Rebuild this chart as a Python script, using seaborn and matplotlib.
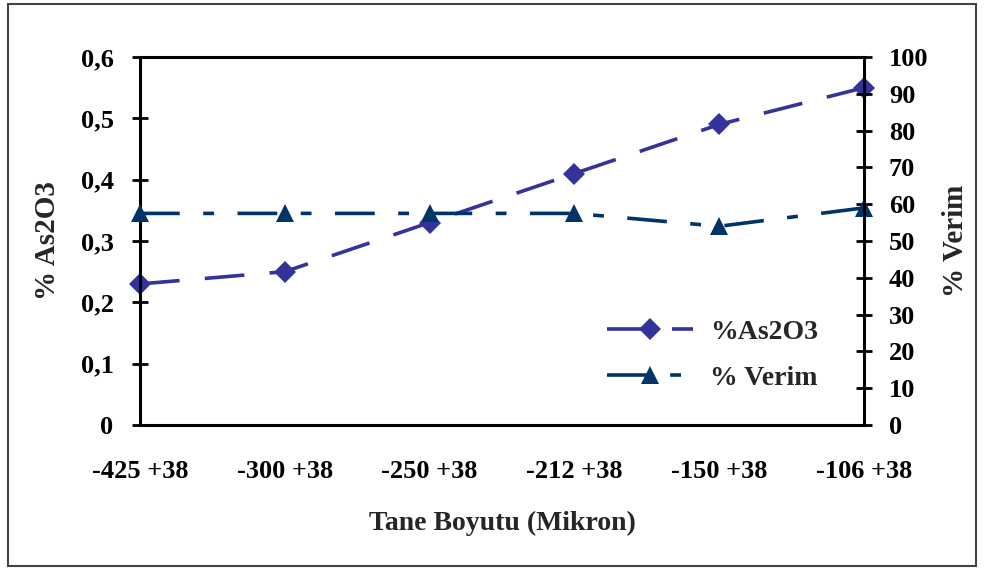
import matplotlib
matplotlib.use("Agg")
import matplotlib.pyplot as plt
import seaborn as sns
import pandas as pd
from matplotlib.patches import Rectangle

categories = ["-425 +38", "-300 +38", "-250 +38", "-212 +38", "-150 +38", "-106 +38"]
as2o3 = [0.23, 0.25, 0.33, 0.41, 0.49, 0.55]
verim = [57.5, 57.5, 57.5, 57.5, 54.0, 59.0]
left_ticks = [0, 0.1, 0.2, 0.3, 0.4, 0.5, 0.6]
left_labels = ["0", "0,1", "0,2", "0,3", "0,4", "0,5", "0,6"]
right_ticks = [0, 10, 20, 30, 40, 50, 60, 70, 80, 90, 100]

sns.set_theme(style="white")
plt.rcParams["font.family"] = ["Liberation Serif", "DejaVu Serif"]
plt.rcParams["font.weight"] = "bold"

df = pd.DataFrame({"x": range(len(categories)), "as2o3": as2o3, "verim": verim})

fig = plt.figure(figsize=(9.84, 5.72), dpi=100)
fig.patch.set_facecolor("white")
ax = fig.add_axes([140/984, 1-425/572, (864-140)/984, (425-57)/572])
ax2 = ax.twinx()

c1 = "#333399"
c2 = "#003366"
sns.lineplot(data=df, x="x", y="as2o3", ax=ax, color=c1, lw=2.6,
             marker="D", markersize=11, markeredgewidth=0,
             label="%As2O3", legend=False)
ax.lines[-1].set_dashes([11, 7])
ax.lines[-1].set_clip_on(False)
sns.lineplot(data=df, x="x", y="verim", ax=ax2, color=c2, lw=2.6,
             marker="^", markersize=13, markeredgewidth=0,
             label="% Verim", legend=False)
ax2.lines[-1].set_dashes([11, 6.5, 3, 6.5])
ax2.lines[-1].set_clip_on(False)

ax.set_xlim(0, len(categories) - 1)
ax.set_ylim(0, 0.6)
ax2.set_ylim(0, 100)
ax.set_xticks(range(len(categories)))
ax.set_xticklabels(categories)
ax.set_yticks(left_ticks)
ax.set_yticklabels(left_labels)
ax2.set_yticks(right_ticks)
ax2.set_yticklabels([str(t) for t in right_ticks])

for a in (ax, ax2):
    for s in a.spines.values():
        s.set_color("black")
        s.set_linewidth(2.2)
    a.grid(False)
ax.spines["right"].set_visible(False)
ax2.spines["left"].set_visible(False)
ax2.spines["bottom"].set_visible(False)
ax2.spines["top"].set_visible(False)

fs = 19
ax.tick_params(axis="both", direction="inout", length=12, width=2, color="black",
               labelsize=fs, labelcolor="black", pad=13)
ax.tick_params(axis="x", pad=19)
ax2.tick_params(axis="y", direction="inout", length=12, width=2, color="black",
                labelsize=fs, labelcolor="black", pad=12)
for lab in ax.get_xticklabels() + ax.get_yticklabels() + ax2.get_yticklabels():
    lab.set_fontweight("bold")

ax.set_xlabel("Tane Boyutu (Mikron)", fontsize=20, fontweight="bold", labelpad=20)
ax.set_ylabel("% As2O3", fontsize=21, fontweight="bold", labelpad=14)
ax2.set_ylabel("% Verim", fontsize=21, fontweight="bold", labelpad=10)

h1, l1 = ax.get_legend_handles_labels()
h2, l2 = ax2.get_legend_handles_labels()
leg = ax2.legend(h1 + h2, l1 + l2, loc="center left", bbox_to_anchor=(0.645, 0.19),
                 frameon=False, prop={"size": 20, "weight": "bold"},
                 borderpad=0, borderaxespad=0,
                 handlelength=3.1, labelspacing=0.75, handletextpad=0.6)

fig.add_artist(Rectangle((8/984, 6/572), 968/984, 562/572, transform=fig.transFigure,
                         fill=False, edgecolor="#444444", lw=1.5))

fig.savefig("out.png", dpi=100, facecolor="white")
